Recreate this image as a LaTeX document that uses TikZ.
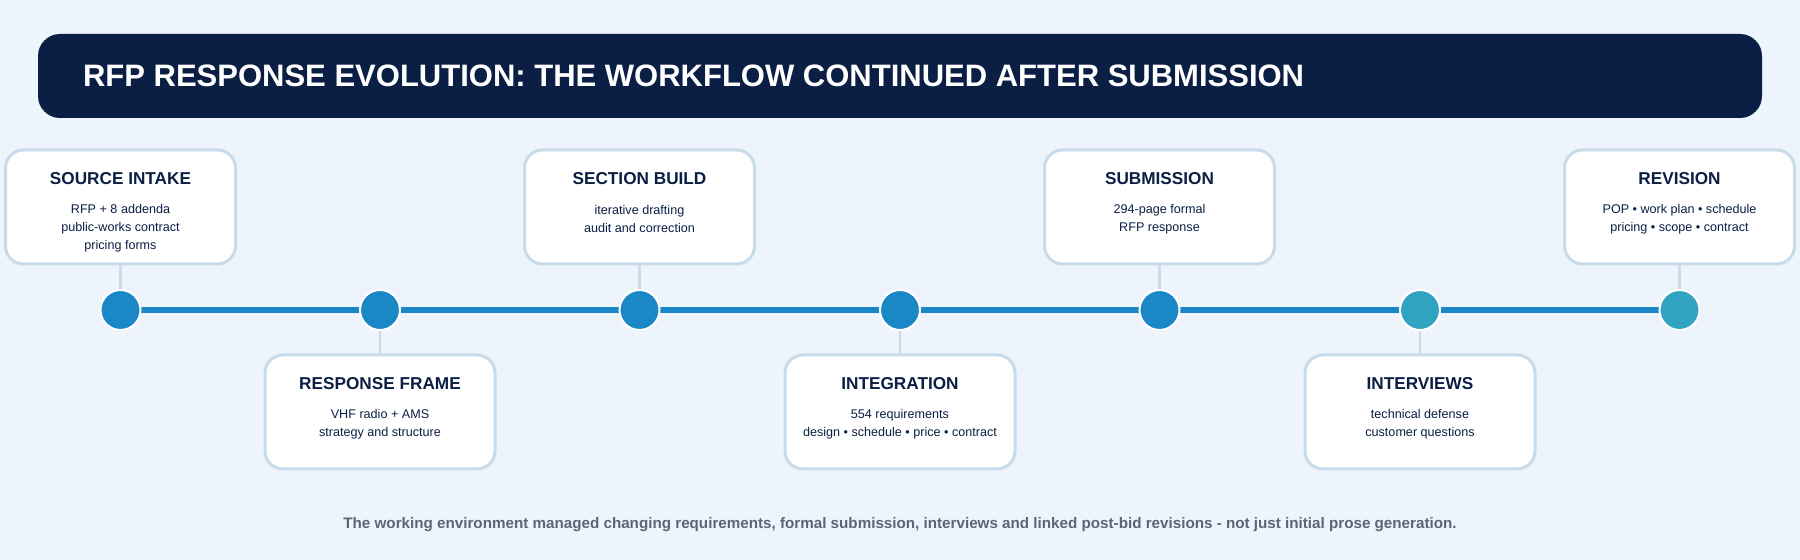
\documentclass[tikz,border=0pt]{standalone}
\usepackage{fontspec}
\setmainfont{Liberation Sans}
\usetikzlibrary{calc}
\definecolor{bg}{HTML}{EEF4FB}
\definecolor{navy}{HTML}{0B1F44}
\definecolor{lineblue}{HTML}{1A87C6}
\definecolor{teal}{HTML}{2FA3BF}
\definecolor{bord}{HTML}{C8DBEA}
\definecolor{foot}{HTML}{5A6678}
\tikzset{
  card/.style={draw=bord,line width=1.5pt,fill=white,rounded corners=9pt,minimum width=115pt,minimum height=57pt,inner sep=0pt},
  ttl/.style={font=\fontsize{8.6}{10}\selectfont\bfseries,text=navy},
  body/.style={font=\fontsize{6.3}{9}\selectfont,text=navy,align=center},
  dot/.style={circle,draw=white,line width=1pt,minimum size=20pt,inner sep=0pt},
  stub/.style={draw=bord,line width=1.2pt},
}
\begin{document}
\begin{tikzpicture}[x=0.5pt,y=-0.5pt]
\fill[bg] (0,0) rectangle (1800,560);
\useasboundingbox (0,0) rectangle (1800,560);
\node[fill=navy,rounded corners=11pt,minimum width=862pt,minimum height=42pt,inner sep=0pt] (bar) at (900,76) {};
\node[anchor=west,text=white,font=\fontsize{15.5}{18}\selectfont\bfseries] (title) at (76,76) {RFP RESPONSE EVOLUTION: THE WORKFLOW CONTINUED AFTER SUBMISSION};
\foreach \i/\x in {1/120.5,2/380,3/639.5,4/900,5/1159.5,6/1420,7/1679.5}{
  \coordinate (p\i) at (\x,310);
}
\draw[lineblue,line width=2.6pt] (p1) -- (p7);
\foreach \i/\t in {1/SOURCE INTAKE,3/SECTION BUILD,5/SUBMISSION,7/REVISION}{
  \node[card] (c\i) at ($(p\i)+(0,-103)$) {};
  \node[ttl] (t\i) at ($(c\i.north)+(0,30)$) {\t};
  \draw[stub] (c\i.south) -- (p\i);
}
\foreach \i/\t in {2/RESPONSE FRAME,4/INTEGRATION,6/INTERVIEWS}{
  \node[card] (c\i) at ($(p\i)+(0,102)$) {};
  \node[ttl] (t\i) at ($(c\i.north)+(0,30)$) {\t};
  \draw[stub] (c\i.north) -- (p\i);
}
\node[body] (b1) at ($(c1.north)+(0,80)$) {RFP + 8 addenda\\public-works contract\\pricing forms};
\node[body] (b3) at ($(c3.north)+(0,71)$) {iterative drafting\\audit and correction};
\node[body] (b5) at ($(c5.north)+(0,71)$) {294-page formal\\RFP response};
\node[body] (b7) at ($(c7.north)+(0,71)$) {POP • work plan • schedule\\pricing • scope • contract};
\node[body] (b2) at ($(c2.north)+(0,71)$) {VHF radio + AMS\\strategy and structure};
\node[body] (b4) at ($(c4.north)+(0,71)$) {554 requirements\\design • schedule • price • contract};
\node[body] (b6) at ($(c6.north)+(0,71)$) {technical defense\\customer questions};
\foreach \i/\c in {1/lineblue,2/lineblue,3/lineblue,4/lineblue,5/lineblue,6/teal,7/teal}{
  \node[dot,fill=\c] (d\i) at (p\i) {};
}
\node[text=foot,font=\fontsize{7.6}{9}\selectfont\bfseries] (footer) at (900,525) {The working environment managed changing requirements, formal submission, interviews and linked post-bid revisions - not just initial prose generation.};
\end{tikzpicture}
\end{document}
